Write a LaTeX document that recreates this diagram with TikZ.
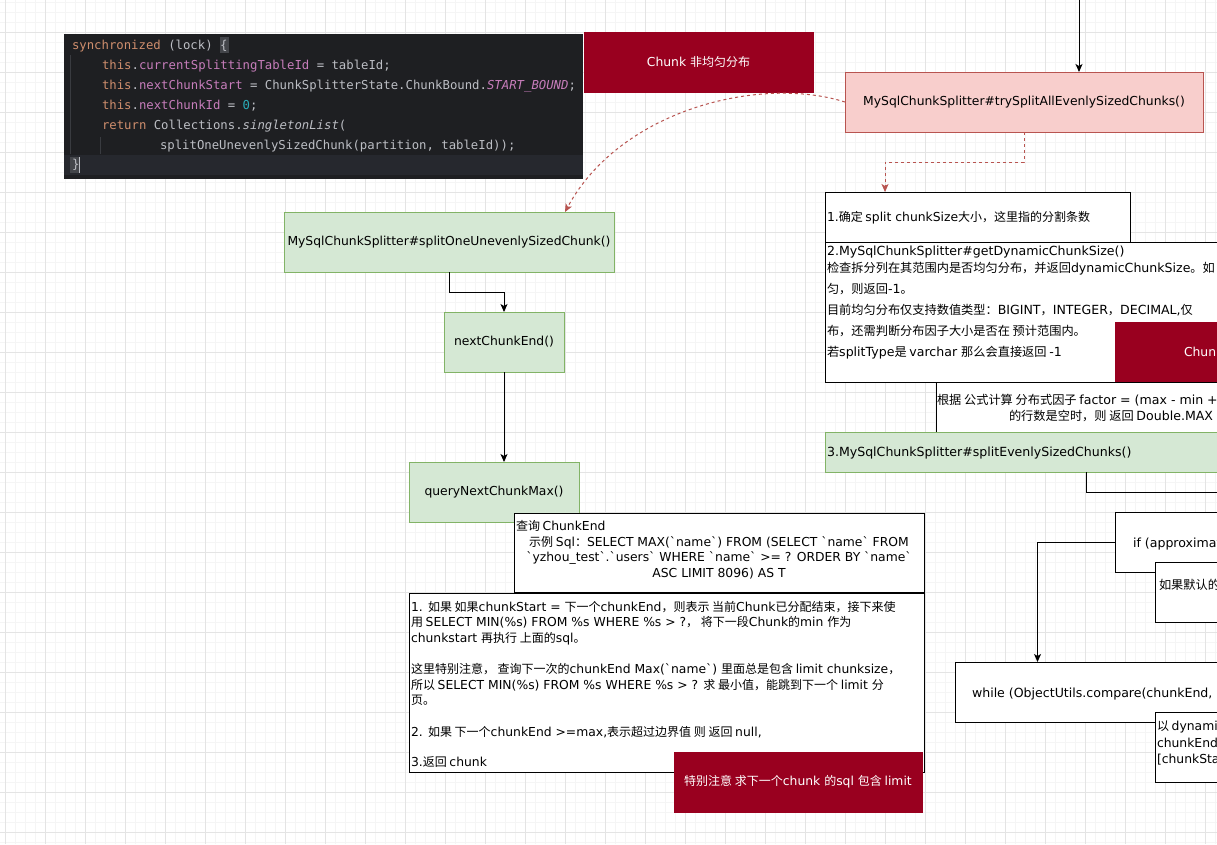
\documentclass[tikz,border=0pt]{standalone}
\usepackage{fontspec}
\setmainfont{Noto Sans CJK SC}[Ligatures=TeXOff]
\newfontfamily\cjkf{Noto Sans CJK SC}[Ligatures=TeXOff]
\newfontfamily\latf{DejaVu Sans}[Ligatures=TeXOff, Scale=1.03]
\newfontfamily\codefont{DejaVu Sans Mono}
\newcommand\nochartoks{\XeTeXinterchartokenstate=0\relax}
\makeatletter
\count@="3000
\loop \XeTeXcharclass\count@=7 \advance\count@ by 1 \ifnum\count@<"3040 \repeat
\count@="4E00
\loop \XeTeXcharclass\count@=7 \advance\count@ by 1 \ifnum\count@<"A000 \repeat
\count@="FF00
\loop \XeTeXcharclass\count@=7 \advance\count@ by 1 \ifnum\count@<"FFF0 \repeat
\makeatother
\XeTeXinterchartoks 0 7 = {\cjkf}
\XeTeXinterchartoks 4095 7 = {\cjkf}
\XeTeXinterchartoks 7 0 = {\latf}
\XeTeXinterchartoks 4095 0 = {\latf}
\usetikzlibrary{arrows.meta}
\definecolor{gridminor}{HTML}{F5F5F5}
\definecolor{gridmajor}{HTML}{E4E4E4}
\definecolor{gfill}{HTML}{D5E8D4}
\definecolor{gline}{HTML}{82B366}
\definecolor{pfill}{HTML}{F8CECC}
\definecolor{pline}{HTML}{B85450}
\definecolor{dred}{HTML}{99001F}
\definecolor{codebg}{HTML}{1E1F22}
\definecolor{codehl}{HTML}{26282E}
\definecolor{codebr}{HTML}{43454A}
\definecolor{codeguide}{HTML}{393B40}
\definecolor{ctext}{HTML}{BCBEC4}
\definecolor{ckw}{HTML}{CF8E6D}
\definecolor{cfield}{HTML}{C77DBB}
\definecolor{cnum}{HTML}{2AACB8}
\begin{document}
\XeTeXinterchartokenstate=1\relax
\begin{tikzpicture}[x=1pt,y=-1pt,
  box/.style={draw=black, line width=1pt, fill=white, inner sep=0pt, outer sep=0pt, anchor=north west, font=\fontsize{12}{14}\selectfont},
  greenbox/.style={box, fill=gfill, draw=gline},
  pinkbox/.style={box, fill=pfill, draw=pline},
  redbox/.style={box, fill=dred, draw=dred, text=white},
  ln/.style={anchor=west, inner sep=0pt, outer sep=0pt, text height=10.5pt, text depth=1.5pt, font=\fontsize{12}{14}\selectfont},
  lnc/.style={ln, anchor=center},
  lnb/.style={ln, font=\fontsize{12.2}{14}\selectfont},
  codeln/.style={anchor=west, inner sep=0pt, outer sep=0pt, text height=9pt, text depth=1pt, text=ctext, font=\nochartoks\codefont\fontsize{12.3}{14}\selectfont},
  conn/.style={line width=1pt, draw=black, -{Stealth[length=8pt,width=7pt,inset=2pt]}},
  reddash/.style={line width=1pt, draw=pline, dash pattern=on 3pt off 3pt, -{Stealth[length=8pt,width=7pt,inset=2pt,fill=pline]}},
  plain/.style={line width=1pt, draw=black}
]
\useasboundingbox (0,0) rectangle (1217,844);
\clip (0,0) rectangle (1217,844);
\fill[white] (0,0) rectangle (1217,844);
% grid
\foreach \i in {0,...,121} \draw[gridminor, line width=1pt] ({5+10*\i},0) -- ({5+10*\i},844);
\foreach \j in {0,...,84} \draw[gridminor, line width=1pt] (0,{2+10*\j}) -- (1217,{2+10*\j});
\foreach \i in {0,...,30} \draw[gridmajor, line width=1pt] ({5+40*\i},0) -- ({5+40*\i},844);
\foreach \j in {0,...,21} \draw[gridmajor, line width=1pt] (0,{-8+40*\j}) -- (1217,{-8+40*\j});

% code block
\node[anchor=north west, fill=codebg, inner sep=0pt, outer sep=0pt, minimum width=519, minimum height=145] (code) at (64,34) {};
\fill[codehl] (64,155) rectangle (583,175);
\fill[codebr] (219.5,37) rectangle (228.5,53);
\fill[codebr] (70,157) rectangle (78.5,173);
\draw[codeguide, line width=1pt] (70.5,55) -- (70.5,154);
\draw[codeguide, line width=1pt] (100.5,137) -- (100.5,154);
\draw[ctext, line width=1pt] (79.5,157) -- (79.5,173);
\node[codeln] (c1) at (72,45) {\textcolor{ckw}{synchronized} (lock) \{};
\node[codeln] (c2) at (102,65) {\textcolor{ckw}{this}.\textcolor{cfield}{currentSplittingTableId} = tableId;};
\node[codeln] (c3) at (102,85) {\textcolor{ckw}{this}.\textcolor{cfield}{nextChunkStart} = ChunkSplitterState.ChunkBound.\textcolor{cfield}{\itshape START\_BOUND};};
\node[codeln] (c4) at (102,105) {\textcolor{ckw}{this}.\textcolor{cfield}{nextChunkId} = \textcolor{cnum}{0};};
\node[codeln] (c5) at (102,125) {\textcolor{ckw}{return} Collections.{\itshape singletonList}(};
\node[codeln] (c6) at (160,145) {splitOneUnevenlySizedChunk(partition, tableId));};
\node[codeln] (c7) at (72,164) {\}};

% top-left red box
\node[redbox, minimum width=229, minimum height=60] (uneven) at (584,32) {Chunk 非均匀分布};

% pink box
\node[pinkbox, minimum width=358, minimum height=60] (trysplit) at (845,72) {MySqlChunkSplitter\#trySplitAllEvenlySizedChunks()};

% left flow
\node[greenbox, minimum width=330, minimum height=60] (split1) at (284,212) {MySqlChunkSplitter\#splitOneUnevenlySizedChunk()};
\node[greenbox, minimum width=120, minimum height=60] (nextend) at (444,312) {nextChunkEnd()};
\node[greenbox, minimum width=170, minimum height=60] (querymax) at (409,462) {queryNextChunkMax()};

\node[box, minimum width=410, minimum height=79] (queryend) at (514,513) {};
\node[ln] (qe1) at (516,526) {查询 ChunkEnd};
\node[lnc] (qe2) at (719,542) {示例 Sql：SELECT MAX(`name`) FROM (SELECT `name` FROM};
\node[lnc] (qe3) at (719,557) {`yzhou\_test`.`users` WHERE `name` >= ? ORDER BY `name`};
\node[lnc] (qe4) at (719,573) {ASC LIMIT 8096) AS T};

\node[box, minimum width=515, minimum height=179] (desc) at (409,593) {};
\node[ln] (d1) at (411,606.5) {1. 如果 如果chunkStart = 下一个chunkEnd，则表示 当前Chunk已分配结束，接下来使};
\node[ln] (d2) at (411,622) {用 SELECT MIN(\%s) FROM \%s WHERE \%s > ?，~将下一段Chunk的min 作为};
\node[ln] (d3) at (411,637.5) {chunkstart 再执行 上面的sql。};
\node[ln] (d4) at (411,669) {这里特别注意，~查询下一次的chunkEnd Max(`name`) 里面总是包含 limit chunksize，};
\node[ln] (d5) at (411,684.5) {所以 SELECT MIN(\%s) FROM \%s WHERE \%s > ? 求 最小值，能跳到下一个 limit 分};
\node[ln] (d6) at (411,700) {页。};
\node[ln] (d7) at (411,731.5) {2. 如果 下一个chunkEnd >=max,表示超过边界值 则 返回 null,};
\node[ln] (d8) at (411,762) {3.返回 chunk};

\node[redbox, minimum width=248, minimum height=60] (limit) at (674,752) {特别注意 求下一个chunk 的sql 包含 limit};

% right flow
\node[box, minimum width=305, minimum height=50] (step1) at (825,192) {};
\node[ln] (s1) at (827,217) {1.确定 split chunkSize大小，这里指的分割条数};
\node[box, minimum width=440, minimum height=140] (step2) at (825,242) {};
\node[lnb] (s2a) at (827,251) {2.MySqlChunkSplitter\#getDynamicChunkSize()};
\node[lnb] (s2b) at (827,268) {检查拆分列在其范围内是否均匀分布，并返回dynamicChunkSize。如};
\node[lnb] (s2c) at (827,289) {匀，则返回-1。};
\node[lnb] (s2d) at (827,309.5) {目前均匀分布仅支持数值类型：BIGINT，INTEGER，DECIMAL,仅};
\node[lnb] (s2e) at (827,330.5) {布，还需判断分布因子大小是否在 预计范围内。};
\node[lnb] (s2f) at (827,352) {若splitType是 varchar 那么会直接返回 -1};
\node[redbox, minimum width=150, minimum height=60] (even) at (1115,322) {};
\node[ln, text=white] (evt) at (1184,352) {Chunk};
\node[box, minimum width=330, minimum height=50] (factor) at (936,382) {};
\node[lnb] (f1) at (937,400) {根据 公式计算 分布式因子 factor = (max - min +};
\node[lnb] (f2) at (1009,415.5) {的行数是空时，则 返回 Double.MAX};
\node[greenbox, minimum width=440, minimum height=40] (green3) at (825,432) {};
\node[lnb] (g3) at (827,452) {3.MySqlChunkSplitter\#splitEvenlySizedChunks()};

\node[box, minimum width=150, minimum height=60] (ifbox) at (1115,512) {};
\node[lnb] (ift) at (1133,542.5) {if (approximat};
\node[box, minimum width=110, minimum height=60] (defbox) at (1155,562.5) {};
\node[lnb] (deft) at (1159,585) {如果默认的};
\node[box, minimum width=310, minimum height=60] (whilebox) at (955,662) {};
\node[lnb] (wt) at (972,693) {while (ObjectUtils.compare(chunkEnd, m};
\node[box, minimum width=110, minimum height=70] (dynbox) at (1155,712) {};
\node[ln] (dy1) at (1157,726) {以 dynami};
\node[ln] (dy2) at (1157,743) {chunkEnd};
\node[ln] (dy3) at (1157,759) {[chunkSta};

% connectors
\coordinate (topin) at (1079,-2);
\draw[conn] (topin) -- (topin |- trysplit.north);
\draw[reddash] (trysplit.south) -- ++(0,30) -| ([xshift=60pt]step1.north west);
\draw[reddash] (trysplit.west) .. controls (760,75) and (620,110) .. ([xshift=-49pt]split1.north east);
\draw[conn] (split1.south) -- ++(0,20) -| (nextend.north);
\draw[conn] (nextend.south) -- (nextend.south |- querymax.north);
\coordinate (g3out) at (1240,492);
\draw[plain] ([xshift=261pt]green3.south west) |- (g3out);
\draw[conn] (ifbox.west) -| ([xshift=82.5pt]whilebox.north west);
\end{tikzpicture}
\end{document}
